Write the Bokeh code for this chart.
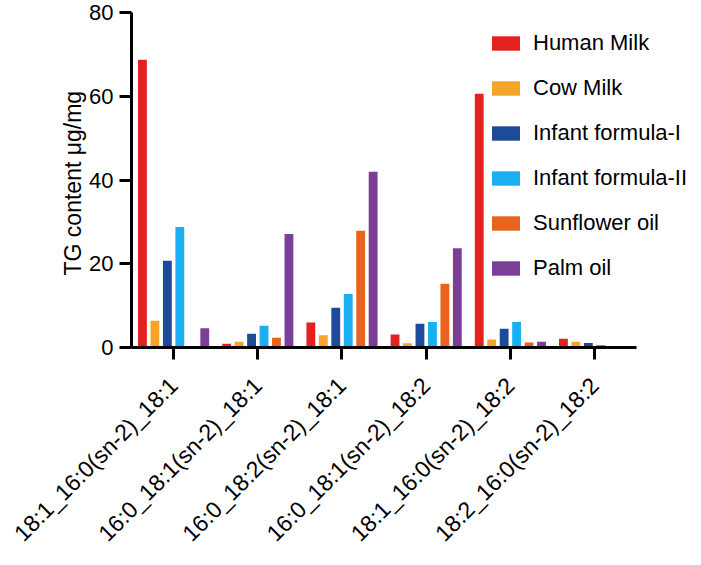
from bokeh.plotting import figure
from bokeh.models import ColumnDataSource, Range1d, FixedTicker
from bokeh.transform import dodge
from bokeh.embed import file_html
from bokeh.resources import INLINE
import math

categories = ["18:1_16:0(sn-2)_18:1", "16:0_18:1(sn-2)_18:1", "16:0_18:2(sn-2)_18:1",
              "16:0_18:1(sn-2)_18:2", "18:1_16:0(sn-2)_18:2", "18:2_16:0(sn-2)_18:2"]
series = ["Human Milk", "Cow Milk", "Infant formula-I", "Infant formula-II", "Sunflower oil", "Palm oil"]
human_milk = [68.7, 0.9, 6.0, 3.1, 60.6, 2.1]
cow_milk = [6.4, 1.4, 2.9, 1.0, 1.9, 1.4]
infant_formula_1 = [20.7, 3.3, 9.5, 5.7, 4.5, 1.1]
infant_formula_2 = [28.8, 5.2, 12.8, 6.1, 6.1, 0.6]
sunflower_oil = [0.0, 2.3, 27.9, 15.2, 1.2, 0.0]
palm_oil = [4.6, 27.1, 42.0, 23.7, 1.4, 0.0]
y_ticks = [0, 20, 40, 60, 80]

colors = ["#E3211F", "#F5A52A", "#1E4A9A", "#19AFF0", "#E8641E", "#7B3F98"]
cols = ["hm", "cm", "if1", "if2", "sf", "po"]

# category slots on a numeric scale (slot centres at i + 0.5)
xpos = [i + 0.5 for i in range(len(categories))]
source = ColumnDataSource(dict(x=xpos, hm=human_milk, cm=cow_milk, if1=infant_formula_1,
                               if2=infant_formula_2, sf=sunflower_oil, po=palm_oil))

FONT = "Liberation Sans"

p = figure(width=701, height=565, x_range=Range1d(0, 6.77), y_range=Range1d(0, 80),
           output_backend="svg", toolbar_location=None,
           min_border_left=131, min_border_right=0, min_border_top=12, min_border_bottom=218)

step = 0.148
for i, (c, name, col) in enumerate(zip(cols, series, colors)):
    p.vbar(x=dodge("x", (i - 2.5) * step, range=p.x_range), top=c, width=0.105,
           source=source, fill_color=col, line_color=None, legend_label=name)

p.xgrid.visible = False
p.ygrid.visible = False
p.outline_line_color = None

for ax in (p.xaxis[0], p.yaxis[0]):
    ax.axis_line_width = 3
    ax.major_tick_line_width = 3
    ax.major_tick_out = 12
    ax.major_tick_in = 0
    ax.minor_tick_line_color = None
    ax.major_label_text_font = FONT
    ax.major_label_text_font_size = "22px"
    ax.major_label_text_color = "black"
    ax.axis_line_color = "black"
    ax.major_tick_line_color = "black"

p.xaxis.ticker = FixedTicker(ticks=xpos)
p.xaxis.major_label_overrides = {x: c for x, c in zip(xpos, categories)}
p.xaxis.bounds = (-0.07, len(categories))
p.xaxis.major_label_text_font_size = "23px"
p.xaxis.major_label_orientation = math.pi / 4
p.xaxis.major_label_standoff = 22

p.yaxis.ticker = FixedTicker(ticks=y_ticks)
p.yaxis.major_label_standoff = 6
p.yaxis.axis_label = "TG content  μg/mg"
p.yaxis.axis_label_text_font = FONT
p.yaxis.axis_label_text_font_size = "23px"
p.yaxis.axis_label_text_font_style = "normal"
p.yaxis.axis_label_text_color = "black"
p.yaxis.axis_label_standoff = 0

lg = p.legend[0]
lg.location = (357, 66)
lg.border_line_color = None
lg.background_fill_alpha = 0
lg.padding = 0
lg.margin = 0
lg.glyph_width = 35
lg.glyph_height = 18
lg.label_text_font = FONT
lg.label_text_font_size = "22px"
lg.label_text_color = "black"
lg.label_standoff = 10
lg.spacing = 19

open("out.html", "w").write(file_html(p, INLINE))
